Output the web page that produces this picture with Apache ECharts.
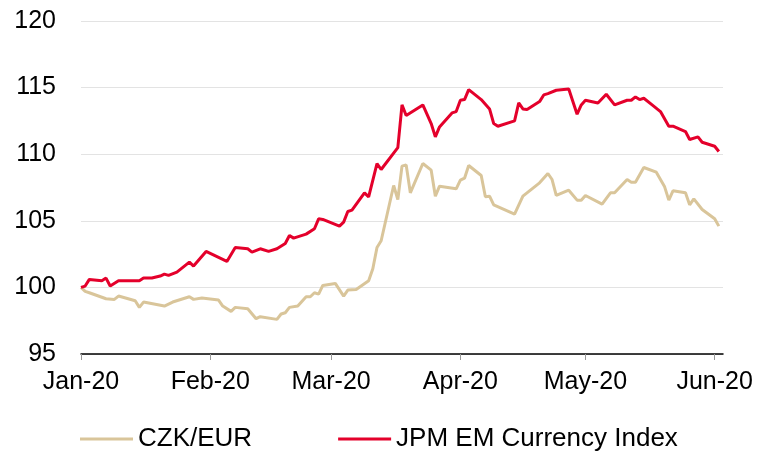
<!DOCTYPE html>
<html>
<head>
<meta charset="utf-8">
<script src="https://cdn.jsdelivr.net/npm/echarts@6/dist/echarts.min.js"></script>
<style>
  html, body { margin: 0; padding: 0; background: #fff; }
  #chart { width: 761px; height: 453px; }
</style>
</head>
<body>
<div id="chart"></div>
<script>
var myChart = echarts.init(document.getElementById("chart"));

// axis range: calendar days from 1 Jan to 3 Jun 2020
var axisStart = '2020-01-01';
var axisEnd = '2020-06-03';
var monthNames = ['Jan', 'Feb', 'Mar', 'Apr', 'May', 'Jun', 'Jul', 'Aug', 'Sep', 'Oct', 'Nov', 'Dec'];

var jpmDates = [
	'2020-01-01', '2020-01-02', '2020-01-03', '2020-01-06', '2020-01-07', '2020-01-08', '2020-01-10', '2020-01-15',
	'2020-01-16', '2020-01-18', '2020-01-20', '2020-01-21', '2020-01-22', '2020-01-24', '2020-01-27', '2020-01-28', '2020-01-31',
	'2020-02-05', '2020-02-07', '2020-02-10', '2020-02-11', '2020-02-13', '2020-02-15', '2020-02-17', '2020-02-19',
	'2020-02-20', '2020-02-21', '2020-02-24', '2020-02-26', '2020-02-27', '2020-02-28',
	'2020-03-03', '2020-03-04', '2020-03-05', '2020-03-06', '2020-03-09', '2020-03-10', '2020-03-12', '2020-03-13',
	'2020-03-17', '2020-03-18', '2020-03-19', '2020-03-21', '2020-03-23', '2020-03-25', '2020-03-26', '2020-03-27', '2020-03-30', '2020-03-31',
	'2020-04-01', '2020-04-02', '2020-04-03', '2020-04-06', '2020-04-08', '2020-04-09', '2020-04-10', '2020-04-14',
	'2020-04-15', '2020-04-16', '2020-04-17', '2020-04-20', '2020-04-21', '2020-04-22', '2020-04-24', '2020-04-27', '2020-04-29', '2020-04-30',
	'2020-05-01', '2020-05-04', '2020-05-06', '2020-05-08', '2020-05-11', '2020-05-12', '2020-05-13', '2020-05-14',
	'2020-05-15', '2020-05-17', '2020-05-19', '2020-05-21', '2020-05-22', '2020-05-25', '2020-05-26', '2020-05-28', '2020-05-29',
	'2020-06-01', '2020-06-02'
];
var jpmValues = [
	100.0, 100.1, 100.6, 100.5, 100.7, 100.1, 100.5, 100.5,
	100.7, 100.7, 100.85, 101.0, 100.9, 101.15, 101.9, 101.6, 102.7,
	101.95, 103.0, 102.9, 102.65, 102.9, 102.7, 102.9, 103.3,
	103.9, 103.7, 104.0, 104.4, 105.15, 105.1,
	104.6, 104.9, 105.7, 105.8, 107.1, 106.8, 109.3, 108.85,
	110.5, 113.7, 112.9, 113.3, 113.7, 112.3, 111.3, 112.05, 113.1, 113.2,
	114.05, 114.1, 114.85, 114.1, 113.4, 112.3, 112.1, 112.5,
	113.85, 113.4, 113.35, 113.95, 114.45, 114.55, 114.8, 114.9, 113.0, 113.7,
	114.05, 113.85, 114.5, 113.7, 114.05, 114.05, 114.3, 114.1,
	114.2, 113.7, 113.2, 112.1, 112.1, 111.7, 111.1, 111.3, 110.9,
	110.6, 110.2
];

var czkDates = [
	'2020-01-01', '2020-01-02', '2020-01-03', '2020-01-07', '2020-01-09', '2020-01-10', '2020-01-14', '2020-01-15',
	'2020-01-16', '2020-01-21', '2020-01-23', '2020-01-27', '2020-01-28', '2020-01-30',
	'2020-02-03', '2020-02-04', '2020-02-06', '2020-02-07', '2020-02-10', '2020-02-12', '2020-02-13', '2020-02-17',
	'2020-02-18', '2020-02-19', '2020-02-20', '2020-02-22', '2020-02-24', '2020-02-25', '2020-02-26', '2020-02-27', '2020-02-28',
	'2020-03-02', '2020-03-04', '2020-03-05', '2020-03-07', '2020-03-10', '2020-03-11', '2020-03-12', '2020-03-13',
	'2020-03-16', '2020-03-17', '2020-03-18', '2020-03-19', '2020-03-20', '2020-03-23', '2020-03-25', '2020-03-26', '2020-03-27', '2020-03-31',
	'2020-04-01', '2020-04-02', '2020-04-03', '2020-04-06', '2020-04-07', '2020-04-08', '2020-04-09', '2020-04-14',
	'2020-04-16', '2020-04-20', '2020-04-22', '2020-04-23', '2020-04-24', '2020-04-27', '2020-04-29', '2020-04-30',
	'2020-05-01', '2020-05-05', '2020-05-07', '2020-05-08', '2020-05-11', '2020-05-12', '2020-05-13', '2020-05-15',
	'2020-05-18', '2020-05-20', '2020-05-21', '2020-05-22', '2020-05-25', '2020-05-26', '2020-05-27', '2020-05-29',
	'2020-06-01', '2020-06-02'
];
var czkValues = [
	100.0, 99.7, 99.6, 99.15, 99.1, 99.35, 99.0, 98.5,
	98.9, 98.6, 98.9, 99.3, 99.1, 99.2,
	99.05, 98.6, 98.2, 98.5, 98.4, 97.65, 97.8, 97.6,
	98.0, 98.1, 98.5, 98.6, 99.3, 99.3, 99.6, 99.5, 100.15,
	100.3, 99.35, 99.8, 99.85, 100.5, 101.4, 103.0, 103.5,
	107.65, 106.6, 109.1, 109.2, 107.1, 109.3, 108.8, 106.85, 107.6, 107.4,
	108.05, 108.2, 109.15, 108.4, 106.8, 106.85, 106.2, 105.5,
	106.85, 107.85, 108.55, 108.1, 106.9, 107.3, 106.55, 106.55,
	106.9, 106.25, 107.1, 107.1, 108.1, 107.9, 107.9, 109.0,
	108.65, 107.55, 106.55, 107.25, 107.1, 106.2, 106.65, 105.85,
	105.15, 104.6
];

var yTicks = { min: 95, max: 120, interval: 5 };
var color = ['#d9c59a', '#e4002b'];

// one category per calendar day so months are spaced like the original
var days = [];
var pad = function(n) { return n < 10 ? '0' + n : '' + n; };
for (var d = new Date(axisStart + 'T00:00:00Z'); d <= new Date(axisEnd + 'T00:00:00Z'); d.setUTCDate(d.getUTCDate() + 1)) {
	days.push(d.getUTCFullYear() + '-' + pad(d.getUTCMonth() + 1) + '-' + pad(d.getUTCDate()));
}
var isMonthStart = function(idx, val) { return val.slice(8) === '01'; };

var pairs = function(dates, values) {
	return dates.map(function(dt, i) { return [dt, values[i]]; });
};

var font = "'Liberation Sans', Arial, sans-serif";

var option = {
	animation: false,
	backgroundColor: '#ffffff',
	color: color,
	grid: { left: 81, right: 38, top: 21, bottom: 99, containLabel: false },
	legend: {
		left: 80,
		top: 426,
		padding: 0,
		itemGap: 86,
		itemWidth: 53,
		itemHeight: 3,
		icon: 'rect',
		textStyle: { fontFamily: font, fontSize: 26, color: '#000' },
		data: ['CZK/EUR', 'JPM EM Currency Index']
	},
	xAxis: {
		type: 'category',
		data: days,
		boundaryGap: false,
		axisLine: { lineStyle: { color: '#000', width: 1.5 } },
		axisTick: { interval: isMonthStart, length: 6, lineStyle: { color: '#999' } },
		axisLabel: {
			interval: isMonthStart,
			margin: 16,
			fontFamily: font,
			fontSize: 25,
			color: '#000',
			formatter: function(val) {
				return monthNames[parseInt(val.slice(5, 7), 10) - 1] + '-' + val.slice(2, 4);
			}
		},
		splitLine: { show: false }
	},
	yAxis: {
		type: 'value',
		min: yTicks.min,
		max: yTicks.max,
		interval: yTicks.interval,
		axisLine: { show: false },
		axisTick: { show: false },
		axisLabel: { margin: 25, fontFamily: font, fontSize: 25, color: '#000' },
		splitLine: { lineStyle: { color: '#e3e3e3', width: 1 } }
	},
	series: [
		{
			name: 'CZK/EUR',
			type: 'line',
			showSymbol: false,
			lineStyle: { width: 3, color: color[0] },
			data: pairs(czkDates, czkValues)
		},
		{
			name: 'JPM EM Currency Index',
			type: 'line',
			showSymbol: false,
			lineStyle: { width: 3, color: color[1] },
			data: pairs(jpmDates, jpmValues)
		}
	]
};

myChart.setOption(option);
</script>
</body>
</html>
